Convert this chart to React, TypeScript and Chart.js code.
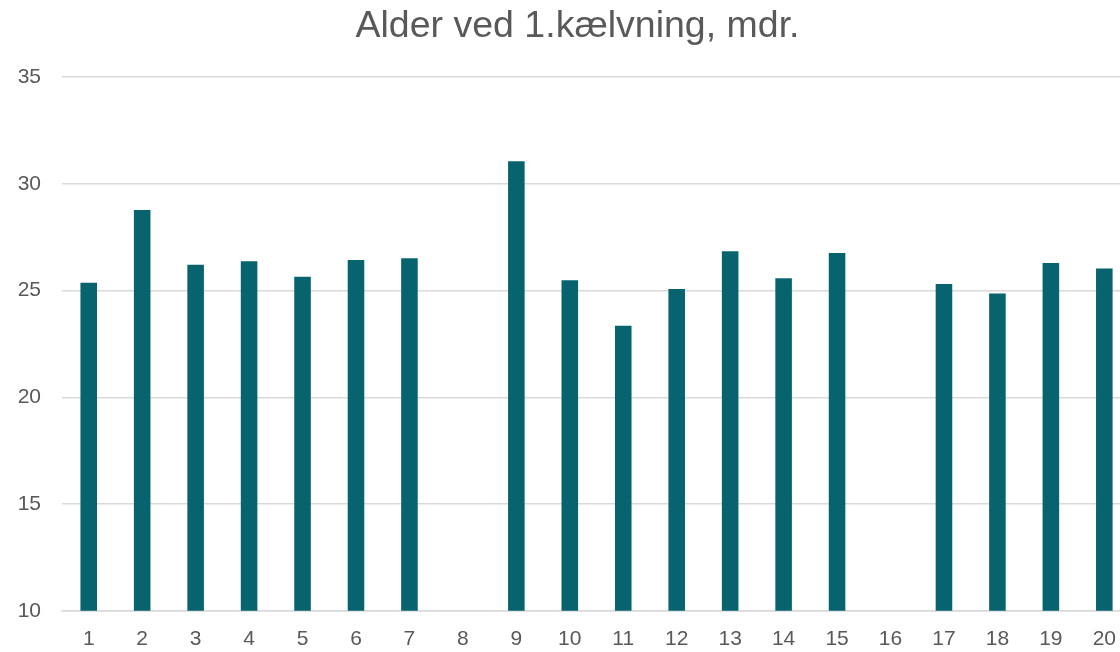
import React, { useEffect, useRef } from "react";
import { Chart, registerables } from "chart.js";

Chart.register(...registerables);

const chartTitle = "Alder ved 1.kælvning, mdr.";
const categories = ["1", "2", "3", "4", "5", "6", "7", "8", "9", "10", "11", "12", "13", "14", "15", "16", "17", "18", "19", "20"];
const ageValues = [25.36, 28.77, 26.21, 26.37, 25.64, 26.43, 26.51, null, 31.06, 25.48, 23.35, 25.07, 26.84, 25.58, 26.76, null, 25.31, 24.86, 26.29, 26.03];
const yMin = 10;
const yMax = 35;
const yStep = 5;

const FONT = "'Liberation Sans', Arial, sans-serif";
const TEXT = "#595959";
const GRID = "#d9d9d9";
const BAR = "#07646F";

const CANVAS_W = 1132;
const CANVAS_H = 668;

// lets the y tick labels use the full left margin (the layout padding only serves to centre the title)
const widenYLabelArea = {
  id: "widenYLabelArea",
  afterLayout(chart: any) {
    if (chart.scales && chart.scales.y) chart.scales.y.left = 0;
  },
};

export default function App() {
  const ref = useRef<HTMLCanvasElement | null>(null);

  useEffect(() => {
    if (!ref.current) return;
    const chart = new Chart(ref.current, {
      type: "bar",
      data: {
        labels: categories,
        datasets: [
          {
            data: ageValues as any,
            backgroundColor: BAR,
            borderWidth: 0,
            barPercentage: 0.31,
            categoryPercentage: 1,
          },
        ],
      },
      plugins: [widenYLabelArea],
      options: {
        animation: false,
        responsive: false,
        maintainAspectRatio: false,
        layout: { padding: { left: 23, right: 0, top: 0, bottom: 0 } },
        plugins: {
          legend: { display: false },
          tooltip: { enabled: false },
          title: {
            display: true,
            text: chartTitle,
            color: TEXT,
            font: { family: FONT, size: 37.5, weight: "normal" },
            padding: { top: 4, bottom: 28 },
          },
        },
        scales: {
          x: {
            grid: { display: false, drawTicks: false },
            border: { display: true, color: GRID, width: 1.5 },
            ticks: {
              color: TEXT,
              font: { family: FONT, size: 21 },
              padding: 16,
              maxRotation: 0,
              autoSkip: false,
            },
          },
          y: {
            min: yMin,
            max: yMax,
            afterFit: (scale: any) => {
              scale.width = 39;
            },
            grid: { color: GRID, lineWidth: 1.5, drawTicks: false },
            border: { display: false },
            ticks: {
              stepSize: yStep,
              color: TEXT,
              font: { family: FONT, size: 21 },
              padding: 21,
            },
          },
        },
      },
    });
    return () => chart.destroy();
  }, []);

  return (
    <div
      style={{
        position: "absolute",
        left: 0,
        top: 0,
        width: 1120,
        height: 652,
        overflow: "hidden",
        background: "#fff",
      }}
    >
      <canvas
        ref={ref}
        width={CANVAS_W}
        height={CANVAS_H}
        style={{ width: CANVAS_W, height: CANVAS_H, display: "block" }}
      />
    </div>
  );
}
